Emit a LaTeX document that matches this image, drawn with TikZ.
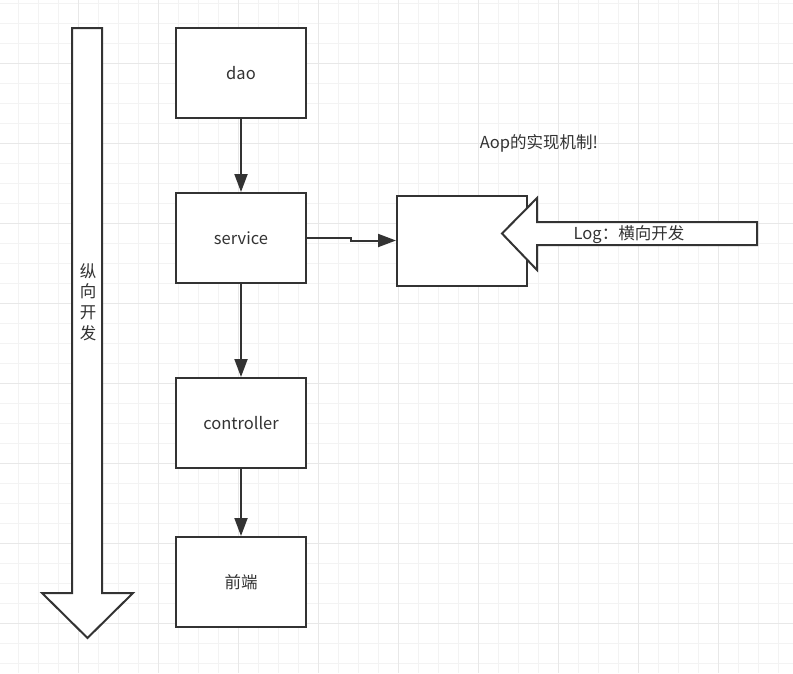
\documentclass[tikz,border=0pt]{standalone}
\usepackage{fontspec}
\setmainfont{Noto Sans CJK SC}
\usetikzlibrary{arrows.meta}
\definecolor{ink}{HTML}{333333}
\definecolor{txt}{HTML}{333333}
\definecolor{gridminor}{HTML}{F3F3F3}
\definecolor{gridmajor}{HTML}{E8E8E8}
\tikzset{
  box/.style={draw=ink, line width=2pt, fill=white, minimum width=130pt, minimum height=90pt, inner sep=0pt, font=\fontsize{16.5pt}{19pt}\selectfont, text=txt},
  conn/.style={draw=ink, line width=2pt, -{Triangle[length=18pt,width=13pt]}},
  bigarrow/.style={draw=ink, line width=2pt, fill=white, line join=miter},
  lbl/.style={font=\fontsize{16.5pt}{20.7pt}\selectfont, text=txt, inner sep=0pt}
}
\begin{document}
\begin{tikzpicture}[x=1pt,y=-1pt]
\useasboundingbox (0,0) rectangle (793,673);
\fill[white] (0,0) rectangle (793,673);
% grid
\foreach \i in {0,...,39} {
  \draw[gridminor, line width=1pt] (18.3+20*\i,0) -- (18.3+20*\i,673);
}
\foreach \j in {0,...,33} {
  \draw[gridminor, line width=1pt] (0,3.3+20*\j) -- (793,3.3+20*\j);
}
\foreach \i in {0,...,9} {
  \draw[gridmajor, line width=1pt] (78.3+80*\i-80,0) -- (78.3+80*\i-80,673);
}
\foreach \j in {0,...,8} {
  \draw[gridmajor, line width=1pt] (0,63.3+80*\j-80) -- (793,63.3+80*\j-80);
}
% vertical big arrow
\draw[bigarrow] (72,28) -- (102,28) -- (102,593) -- (133,593) -- (87.5,638) -- (42,593) -- (72,593) -- cycle;
\node[lbl, align=center] (vlabel) at (88,302) {纵\\向\\开\\发};
% boxes
\node[box] (dao) at (241,73) {dao};
\node[box] (service) at (241,238) {service};
\node[box] (controller) at (241,423) {controller};
\node[box] (front) at (241,582) {前端};
\node[box] (aop) at (462,240.5) {};
% connectors
\draw[conn] (dao) -- (service);
\draw[conn] (service) -- (controller);
\draw[conn] (controller) -- (front);
\coordinate (bend) at (351,238);
\draw[conn] (service.east) -- (bend) |- (aop.west);
% Log arrow
\draw[bigarrow] (757,222) -- (537,222) -- (537,198) -- (502,233.5) -- (537,270) -- (537,245) -- (757,245) -- cycle;
\node[lbl] (loglabel) at (629,235) {Log：横向开发};
\node[lbl] (title) at (539,143) {Aop的实现机制!};
\end{tikzpicture}
\end{document}
